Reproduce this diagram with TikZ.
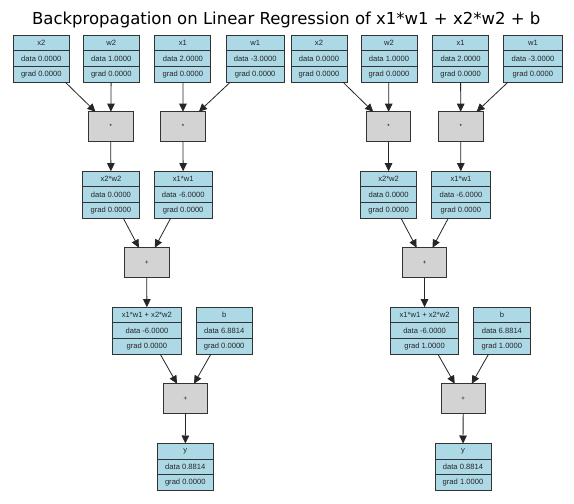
\documentclass[tikz,border=0pt]{standalone}
\usepackage{fontspec}
\setmainfont{Liberation Sans}
\newfontfamily\titlefont{DejaVu Sans}
\usetikzlibrary{arrows.meta,calc}
\definecolor{valfill}{HTML}{ADD8E6}
\definecolor{opfill}{HTML}{D3D3D3}
\definecolor{edgecol}{HTML}{333333}
\tikzset{
  valbox/.style={draw=edgecol, line width=0.9pt, fill=valfill, minimum height=47pt, inner sep=0pt, outer sep=0pt},
  opbox/.style={draw=edgecol, line width=0.9pt, fill=opfill, minimum width=44.5pt, minimum height=30pt, inner sep=0pt, outer sep=0pt, font=\fontsize{6}{7}\selectfont},
  rowtxt/.style={font=\fontsize{7.6}{9}\selectfont, text=black!85, inner sep=0pt},
  rowline/.style={draw=edgecol, line width=0.9pt},
  conn/.style={draw=black!85, line width=0.8pt, -{Triangle[length=8pt,width=7.5pt]}},
}
\newcommand{\valnode}[7]{%
  \node[valbox, minimum width=#4] (#1) at (#2,#3) {};
  \draw[rowline] ($(#1.north west)!1/3!(#1.south west)$) -- ($(#1.north east)!1/3!(#1.south east)$);
  \draw[rowline] ($(#1.north west)!2/3!(#1.south west)$) -- ($(#1.north east)!2/3!(#1.south east)$);
  \node[rowtxt] (#1-l) at ($(#1.north)!1/6!(#1.south)$) {#5};
  \node[rowtxt] (#1-d) at ($(#1.north)!1/2!(#1.south)$) {#6};
  \node[rowtxt] (#1-g) at ($(#1.north)!5/6!(#1.south)$) {#7};
}
\newcommand{\panel}[3]{%
  \valnode{#1x2}{41.3+#2}{58.7}{56pt}{x2}{data 0.0000}{grad 0.0000}
  \valnode{#1w2}{111.3+#2}{58.7}{56pt}{w2}{data 1.0000}{grad 0.0000}
  \valnode{#1x1}{182.9+#2}{58.7}{56pt}{x1}{data 2.0000}{grad 0.0000}
  \valnode{#1w1}{255.2+#2}{58.7}{58.3pt}{w1}{data -3.0000}{grad 0.0000}
  \node[opbox] (#1m1) at (110.8+#2,126.7) {*};
  \node[opbox] (#1m2) at (183+#2,126.7) {*};
  \valnode{#1x2w2}{110.9+#2}{194.7}{56.3pt}{x2*w2}{data 0.0000}{grad 0.0000}
  \valnode{#1x1w1}{183.2+#2}{194.7}{58.3pt}{x1*w1}{data -6.0000}{grad 0.0000}
  \node[opbox] (#1p1) at (146.8+#2,262.7) {+};
  \valnode{#1sum}{146.9+#2}{330.7}{68.3pt}{x1*w1 + x2*w2}{data -6.0000}{grad #3}
  \valnode{#1b}{224.2+#2}{330.7}{56.3pt}{b}{data 6.8814}{grad #3}
  \node[opbox] (#1p2) at (185.5+#2,398.7) {+};
  \valnode{#1y}{185.3+#2}{467}{56pt}{y}{data 0.8814}{grad #3}
  \draw[conn] (#1x2) -- (#1m1);
  \draw[conn] (#1w2) -- (#1m1);
  \draw[conn] (#1x1) -- (#1m2);
  \draw[conn] (#1w1) -- (#1m2);
  \draw[conn] (#1m1) -- (#1x2w2);
  \draw[conn] (#1m2) -- (#1x1w1);
  \draw[conn] (#1x2w2) -- (#1p1);
  \draw[conn] (#1x1w1) -- (#1p1);
  \draw[conn] (#1p1) -- (#1sum);
  \draw[conn] (#1sum) -- (#1p2);
  \draw[conn] (#1b) -- (#1p2);
  \draw[conn] (#1p2) -- (#1y);
}
\begin{document}
\begin{tikzpicture}[x=1pt,y=-1pt]
  \useasboundingbox[fill=white] (0,0) rectangle (574,504);
  \node[anchor=base, inner sep=0pt, font=\titlefont\fontsize{16.5}{18}\selectfont] (title) at (286.2,24.3)
    {Backpropagation on Linear Regression of x1*w1 + x2*w2 + b};
  \panel{L}{0}{0.0000}
  \panel{R}{277.7}{1.0000}
\end{tikzpicture}
\end{document}
